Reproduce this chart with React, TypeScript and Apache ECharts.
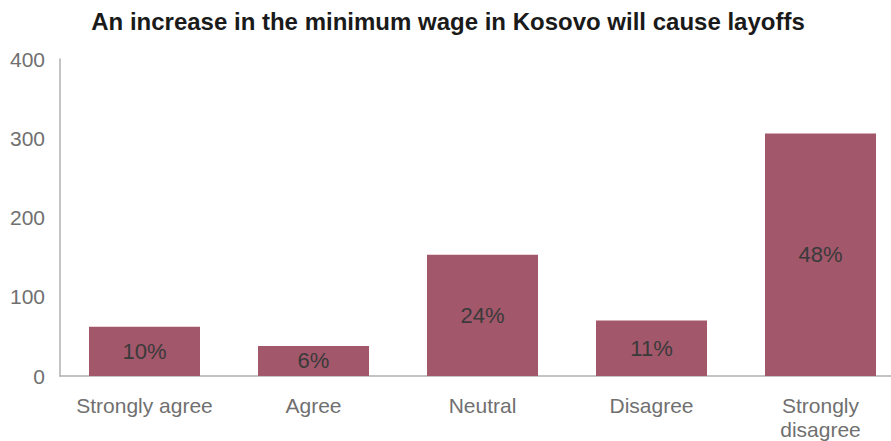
import React, { useEffect, useRef } from "react";
import * as echarts from "echarts";

const categories = ["Strongly agree", "Agree", "Neutral", "Disagree", "Strongly\ndisagree"];
const counts = [62, 38, 153, 70, 306];
const percentLabels = ["10%", "6%", "24%", "11%", "48%"];
const yTicks = { min: 0, max: 400, interval: 100 };
const title = "An increase in the minimum wage in Kosovo will cause layoffs";

const FONT = "'Liberation Sans', Arial, sans-serif";
const CHART_W = 930;

export default function App() {
  const ref = useRef<HTMLDivElement>(null);
  useEffect(() => {
    if (!ref.current) return;
    const chart = echarts.init(ref.current, undefined, { renderer: "svg" });
    chart.setOption({
      animation: false,
      backgroundColor: "#ffffff",
      title: {
        text: title,
        left: 443,
        textAlign: "center",
        top: 4,
        textStyle: { fontFamily: FONT, fontSize: 24, fontWeight: "bold", color: "#1a1a1a" },
      },
      grid: { left: 60, right: CHART_W - 905, top: 59, bottom: 64, containLabel: false },
      xAxis: {
        type: "category",
        data: categories,
        axisTick: { show: false },
        axisLine: { lineStyle: { color: "#b0b0b0", width: 1.5 } },
        axisLabel: {
          interval: 0,
          margin: 17,
          fontFamily: FONT,
          fontSize: 21,
          lineHeight: 24,
          color: "#707070",
        },
      },
      yAxis: {
        type: "value",
        min: yTicks.min,
        max: yTicks.max,
        interval: yTicks.interval,
        splitLine: { show: false },
        axisTick: { show: false },
        axisLine: { show: true, lineStyle: { color: "#b0b0b0", width: 1.5 } },
        axisLabel: { margin: 15, fontFamily: FONT, fontSize: 21, color: "#707070" },
      },
      series: [
        {
          type: "bar",
          data: counts,
          barWidth: 111,
          itemStyle: { color: "#a2576b" },
          label: {
            show: true,
            position: "inside",
            fontFamily: FONT,
            fontSize: 22,
            color: "#3a3a3a",
            formatter: (p: any) => percentLabels[p.dataIndex],
          },
        },
      ],
    });
    return () => chart.dispose();
  }, []);
  return (
    <div style={{ position: "fixed", left: 0, top: 0, width: 891, height: 441, overflow: "hidden" }}>
      <div ref={ref} style={{ width: CHART_W, height: 441 }} />
    </div>
  );
}
